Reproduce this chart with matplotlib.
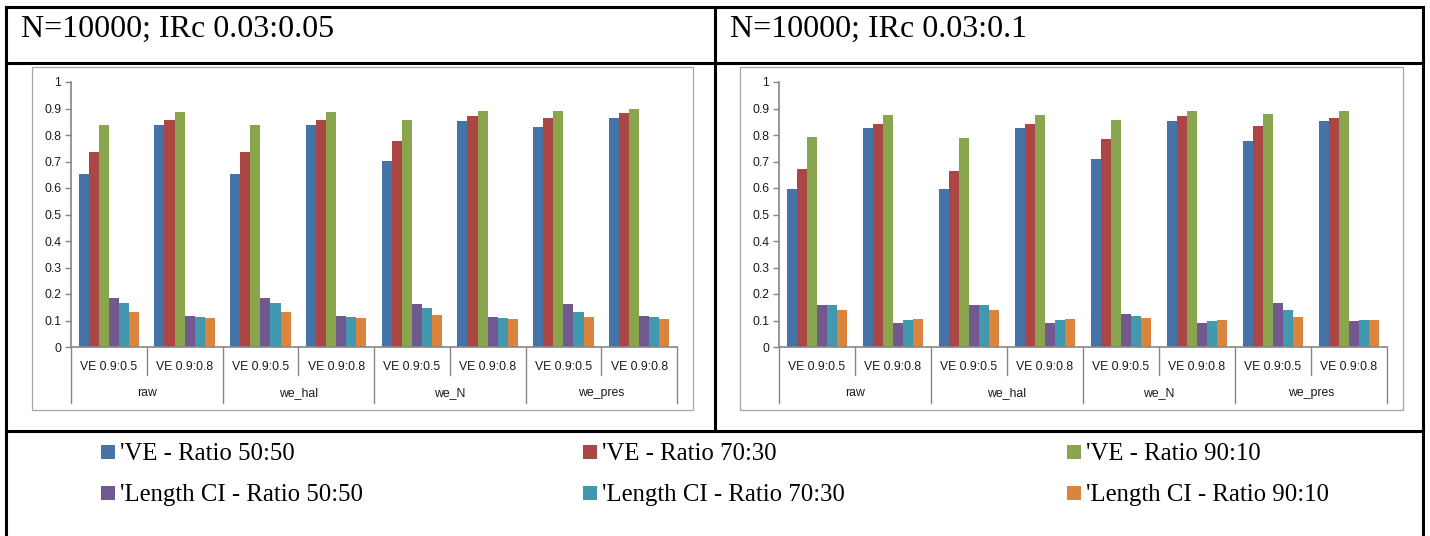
import matplotlib
matplotlib.use("Agg")
import matplotlib.pyplot as plt
import numpy as np
from matplotlib.lines import Line2D
from matplotlib.patches import Rectangle
from matplotlib.transforms import blended_transform_factory

# ---------------- data ----------------
groups = ["raw", "we_hal", "we_N", "we_pres"]
scenarios = ["VE 0.9:0.5", "VE 0.9:0.8"]
series_labels = ["'VE - Ratio 50:50", "'VE - Ratio 70:30", "'VE - Ratio 90:10",
                 "'Length CI - Ratio 50:50", "'Length CI - Ratio 70:30", "'Length CI - Ratio 90:10"]
series_colors = ["#4572A7", "#AA4643", "#89A54E", "#71588F", "#4198AF", "#DB843D"]
panel_titles = ["N=10000; IRc 0.03:0.05", "N=10000; IRc 0.03:0.1"]

# left panel (IRc 0.03:0.05), 8 categories: raw(.5,.8), we_hal, we_N, we_pres
left_ve_50 = [0.654, 0.839, 0.654, 0.839, 0.701, 0.852, 0.829, 0.863]
left_ve_70 = [0.735, 0.858, 0.735, 0.858, 0.779, 0.871, 0.863, 0.883]
left_ve_90 = [0.839, 0.887, 0.839, 0.887, 0.858, 0.890, 0.890, 0.900]
left_ci_50 = [0.186, 0.117, 0.186, 0.117, 0.164, 0.114, 0.162, 0.117]
left_ci_70 = [0.166, 0.114, 0.166, 0.114, 0.146, 0.110, 0.133, 0.114]
left_ci_90 = [0.133, 0.109, 0.133, 0.109, 0.122, 0.105, 0.114, 0.105]

# right panel (IRc 0.03:0.1)
right_ve_50 = [0.598, 0.828, 0.598, 0.828, 0.708, 0.854, 0.779, 0.852]
right_ve_70 = [0.670, 0.842, 0.666, 0.842, 0.784, 0.871, 0.834, 0.866]
right_ve_90 = [0.793, 0.876, 0.790, 0.876, 0.858, 0.890, 0.878, 0.890]
right_ci_50 = [0.157, 0.092, 0.157, 0.092, 0.125, 0.092, 0.166, 0.097]
right_ci_70 = [0.157, 0.103, 0.157, 0.103, 0.117, 0.097, 0.139, 0.103]
right_ci_90 = [0.141, 0.105, 0.141, 0.105, 0.109, 0.102, 0.114, 0.103]

yticks = [0, 0.1, 0.2, 0.3, 0.4, 0.5, 0.6, 0.7, 0.8, 0.9, 1]
ytick_labels = ["0", "0.1", "0.2", "0.3", "0.4", "0.5", "0.6", "0.7", "0.8", "0.9", "1"]

# ---------------- figure ----------------
W, H = 1430, 536
fig = plt.figure(figsize=(W / 100, H / 100), dpi=100)
fig.patch.set_facecolor("white")

def fx(px):
    return px / W

def fy(py):
    return 1 - py / H

SANS = "Liberation Sans"
SERIF = "Liberation Serif"
AXIS_GREY = "#868686"

# table lines
tlw = 2.2
def hline(x0, x1, y):
    fig.add_artist(Line2D([fx(x0), fx(x1)], [fy(y), fy(y)], color="black", lw=tlw,
                          transform=fig.transFigure, solid_capstyle="projecting"))

def vline(x, y0, y1):
    fig.add_artist(Line2D([fx(x), fx(x)], [fy(y0), fy(y1)], color="black", lw=tlw,
                          transform=fig.transFigure, solid_capstyle="projecting"))

hline(6, 1423, 7)
hline(6, 1423, 63)
hline(6, 1423, 431)
vline(6, 7, 540)
vline(1423, 7, 540)
vline(715, 7, 431)

# titles
fig.text(fx(21), fy(37), panel_titles[0], family=SERIF, fontsize=23, va="baseline", ha="left")
fig.text(fx(730), fy(37), panel_titles[1], family=SERIF, fontsize=23, va="baseline", ha="left")

# chart boxes
for (x0, x1) in [(32, 693), (740, 1403)]:
    fig.add_artist(Rectangle((fx(x0), fy(410)), fx(x1) - fx(x0), fy(67) - fy(410),
                             transform=fig.transFigure, fill=False, edgecolor="#A6A6A6", lw=0.9))

panels = [
    (71, 677, [left_ve_50, left_ve_70, left_ve_90, left_ci_50, left_ci_70, left_ci_90]),
    (779, 1387, [right_ve_50, right_ve_70, right_ve_90, right_ci_50, right_ci_70, right_ci_90]),
]

y_top_px, y_zero_px = 82, 347
n_series = 6
gap = 1.5
bar_w = 1.0 / (n_series + gap)
ncat = len(groups) * len(scenarios)
x = np.arange(ncat)

for (xl, xr, series) in panels:
    ax = fig.add_axes([fx(xl), fy(y_zero_px), fx(xr) - fx(xl), fy(y_top_px) - fy(y_zero_px)])
    for i, vals in enumerate(series):
        offs = (i - (n_series - 1) / 2) * bar_w
        ax.bar(x + offs, vals, width=bar_w, color=series_colors[i], edgecolor="none", zorder=2)
    ax.set_xlim(-0.5, ncat - 0.5)
    ax.set_ylim(0, 1)
    ax.set_yticks(yticks)
    ax.set_yticklabels(ytick_labels, family=SANS, fontsize=8.8, color="#1a1a1a")
    ax.set_xticks([])
    for s in ["top", "right"]:
        ax.spines[s].set_visible(False)
    for s in ["left", "bottom"]:
        ax.spines[s].set_color(AXIS_GREY)
        ax.spines[s].set_linewidth(1.2)
    ax.tick_params(axis="y", direction="out", length=4, width=1, color=AXIS_GREY, pad=3)
    ax.set_facecolor("none")

    trans = blended_transform_factory(ax.transData, ax.transAxes)
    h_ax = y_zero_px - y_top_px
    y_short = -(375 - y_zero_px) / h_ax
    y_long = -(403 - y_zero_px) / h_ax
    y_lab1 = -(367 - y_zero_px) / h_ax
    y_lab2 = -(393 - y_zero_px) / h_ax
    # category dividers
    for b in range(ncat + 1):
        xb = b - 0.5
        ylow = y_long if b % len(scenarios) == 0 else y_short
        ax.plot([xb, xb], [0, ylow], color=AXIS_GREY, lw=1.0, transform=trans, clip_on=False)
    # category labels
    for c in range(ncat):
        ax.text(c, y_lab1, scenarios[c % len(scenarios)], transform=trans, ha="center", va="center",
                family=SANS, fontsize=8.8, color="#1a1a1a")
    for g, name in enumerate(groups):
        cx = g * len(scenarios) + (len(scenarios) - 1) / 2
        ax.text(cx, y_lab2, name, transform=trans, ha="center", va="center",
                family=SANS, fontsize=8.8, color="#1a1a1a")

# legend (manual, 3 columns x 2 rows)
col_x = [101, 583, 1067]
row_base = [460, 501]
sq = 14
for i, lab in enumerate(series_labels):
    r, c = divmod(i, 3)
    x0 = col_x[c]
    yb = row_base[r]
    fig.add_artist(Rectangle((fx(x0), fy(yb - 1)), fx(sq), sq / H, transform=fig.transFigure,
                             facecolor=series_colors[i], edgecolor="none"))
    fig.text(fx(x0 + 19), fy(yb), lab, family=SERIF, fontsize=17.8, va="baseline", ha="left")

fig.savefig("out.png", dpi=100, facecolor="white")
